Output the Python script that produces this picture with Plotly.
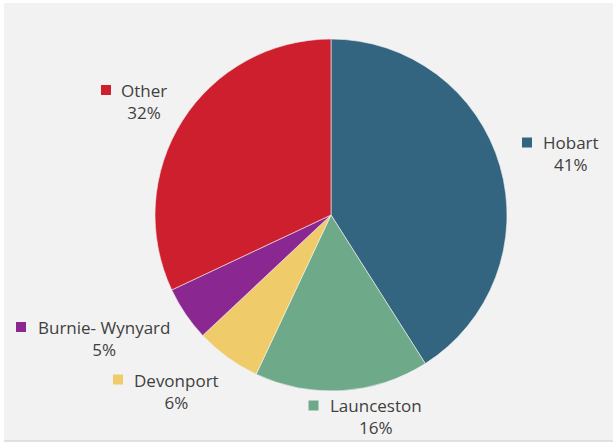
import plotly.graph_objects as go

# Share of total by region
regions = ["Hobart", "Launceston", "Devonport", "Burnie- Wynyard", "Other"]
shares = [41, 16, 6, 5, 32]
colors = ["#336580", "#6ea98a", "#f0cb69", "#8b2791", "#cd1f2e"]

W, H = 614, 443


def px(x):
    return x / W


def py(y):
    return 1 - y / H


# Label placement (pixel centres of text block and legend key)
label_pos = {
    "Hobart": ((571, 154), (527, 142.5)),
    "Launceston": ((376, 416), (313.5, 405.5)),
    "Devonport": ((176, 391), (118, 379.5)),
    "Burnie- Wynyard": ((104, 338.5), (21, 327)),
    "Other": ((144, 101.5), (106, 90)),
}

cx, cy, r = 331, 215, 176

fig = go.Figure(
    go.Pie(
        labels=regions,
        values=shares,
        sort=False,
        direction="clockwise",
        rotation=0,
        textinfo="none",
        hoverinfo="label+percent",
        marker=dict(colors=colors, line=dict(color="#f2f2f2", width=0.6)),
        domain=dict(x=[px(cx - r), px(cx + r)], y=[py(cy + r), py(cy - r)]),
        showlegend=False,
    )
)

shapes = [
    # chart area background
    dict(type="rect", xref="paper", yref="paper", x0=px(4), x1=px(613), y0=py(441), y1=py(3),
         fillcolor="#f2f2f2", line=dict(width=0), layer="below"),
    dict(type="line", xref="paper", yref="paper", x0=px(4), x1=px(613), y0=py(441), y1=py(441),
         line=dict(color="#d9d9d9", width=1.5), layer="below"),
]
annotations = []
total = sum(shares)
for name, val, col in zip(regions, shares, colors):
    (tx, ty), (kx, ky) = label_pos[name]
    annotations.append(dict(
        x=px(tx), y=py(ty), xref="paper", yref="paper",
        text=f"{name}<br>{round(val / total * 100)}%",
        showarrow=False, xanchor="center", yanchor="middle", align="center",
        font=dict(family="Open Sans", size=17, color="#404040"),
    ))
    shapes.append(dict(type="rect", xref="paper", yref="paper",
                       x0=px(kx - 5), x1=px(kx + 5), y0=py(ky + 5), y1=py(ky - 5),
                       fillcolor=col, line=dict(width=0)))

fig.update_layout(
    width=W, height=H,
    margin=dict(l=0, r=0, t=0, b=0),
    paper_bgcolor="white",
    plot_bgcolor="white",
    shapes=shapes,
    annotations=annotations,
)

fig.write_html("out.html")
